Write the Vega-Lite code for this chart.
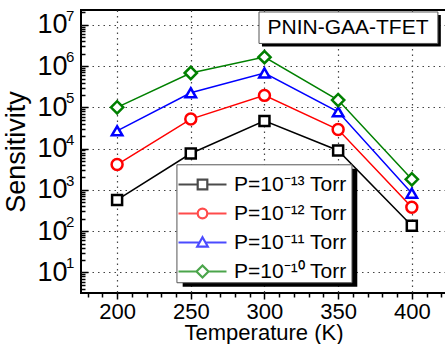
{
  "$schema": "https://vega.github.io/schema/vega-lite/v6.json",
  "width": 365,
  "height": 283,
  "autosize": {"type": "none"},
  "padding": {"left": 81, "top": 10, "right": 0, "bottom": 51},
  "background": "white",
  "config": {
    "font": "Liberation Sans",
    "view": {"stroke": "black", "strokeWidth": 2},
    "axis": {"domain": false, "labelColor": "black", "titleColor": "black", "tickColor": "black", "gridColor": "#444", "gridDash": [1.5, 4], "gridWidth": 1.2, "labelFont": "Liberation Sans", "titleFont": "Liberation Sans", "titleFontWeight": "normal", "tickWidth": 1.5, "labelOverlap": false, "labelFlush": false},
    "axisX": {"titleFontSize": 22, "labelFontSize": 22, "titlePadding": 0, "labelPadding": 2}
  },
  "datasets": {
    "curves": [
      {"T": 200, "S": 570, "P": "P=10⁻¹³ Torr"},
      {"T": 250, "S": 7600, "P": "P=10⁻¹³ Torr"},
      {"T": 300, "S": 47000, "P": "P=10⁻¹³ Torr"},
      {"T": 350, "S": 9000, "P": "P=10⁻¹³ Torr"},
      {"T": 400, "S": 135, "P": "P=10⁻¹³ Torr"},
      {"T": 200, "S": 4100, "P": "P=10⁻¹² Torr"},
      {"T": 250, "S": 52000, "P": "P=10⁻¹² Torr"},
      {"T": 300, "S": 195000, "P": "P=10⁻¹² Torr"},
      {"T": 350, "S": 29000, "P": "P=10⁻¹² Torr"},
      {"T": 400, "S": 380, "P": "P=10⁻¹² Torr"},
      {"T": 200, "S": 27000, "P": "P=10⁻¹¹ Torr"},
      {"T": 250, "S": 225000, "P": "P=10⁻¹¹ Torr"},
      {"T": 300, "S": 680000, "P": "P=10⁻¹¹ Torr"},
      {"T": 350, "S": 78000, "P": "P=10⁻¹¹ Torr"},
      {"T": 400, "S": 830, "P": "P=10⁻¹¹ Torr"},
      {"T": 200, "S": 100000, "P": "P=10⁻¹⁰ Torr"},
      {"T": 250, "S": 680000, "P": "P=10⁻¹⁰ Torr"},
      {"T": 300, "S": 1650000, "P": "P=10⁻¹⁰ Torr"},
      {"T": 350, "S": 150000, "P": "P=10⁻¹⁰ Torr"},
      {"T": 400, "S": 1800, "P": "P=10⁻¹⁰ Torr"}
    ],
    "exps": [
      {"v": 10, "e": "1"}, {"v": 100, "e": "2"}, {"v": 1000, "e": "3"}, {"v": 10000, "e": "4"},
      {"v": 100000, "e": "5"}, {"v": 1000000, "e": "6"}, {"v": 10000000, "e": "7"}
    ],
    "box": [{"name": "PNIN-GAA-TFET"}]
  },
  "layer": [
    {
      "data": {"name": "curves"},
      "encoding": {
        "x": {"field": "T", "type": "quantitative", "scale": {"domain": [175.5, 423.2], "nice": false, "zero": false},
          "axis": {"title": "Temperature (K)", "values": [180,190,200,210,220,230,240,250,260,270,280,290,300,310,320,330,340,350,360,370,380,390,400,410,420],
            "labelExpr": "abs(datum.value/50 - round(datum.value/50)) < 0.01 ? datum.label : ''",
            "tickSize": {"condition": {"test": "abs(datum.value/50 - round(datum.value/50)) < 0.01", "value": 6}, "value": 4},
            "gridOpacity": {"condition": {"test": "abs(datum.value/50 - round(datum.value/50)) < 0.01", "value": 1}, "value": 0}}},
        "y": {"field": "S", "type": "quantitative", "scale": {"type": "log", "domain": [3.16, 22900000], "nice": false},
          "axis": {"title": "Sensitivity", "titleFontSize": 27, "labelFontSize": 27, "labelPadding": 21, "titlePadding": 6,
            "values": [4,5,6,7,8,9,10,20,30,40,50,60,70,80,90,100,200,300,400,500,600,700,800,900,1000,2000,3000,4000,5000,6000,7000,8000,9000,10000,20000,30000,40000,50000,60000,70000,80000,90000,100000,200000,300000,400000,500000,600000,700000,800000,900000,1000000,2000000,3000000,4000000,5000000,6000000,7000000,8000000,9000000,10000000,20000000],
            "labelExpr": "abs(log(datum.value)/LN10 - round(log(datum.value)/LN10)) < 0.01 ? '10' : ''",
            "tickSize": {"condition": {"test": "abs(log(datum.value)/LN10 - round(log(datum.value)/LN10)) < 0.01", "value": -7}, "value": -4},
            "gridOpacity": {"condition": {"test": "abs(log(datum.value)/LN10 - round(log(datum.value)/LN10)) < 0.01", "value": 1}, "value": 0}}}
      },
      "layer": [
        {
          "mark": {"type": "line", "strokeWidth": 1.5},
          "encoding": {
            "color": {"field": "P", "type": "nominal",
              "scale": {"domain": ["P=10⁻¹³ Torr", "P=10⁻¹² Torr", "P=10⁻¹¹ Torr", "P=10⁻¹⁰ Torr"], "range": ["black", "#ff0000", "#0000ff", "#008000"]},
              "legend": {"title": null, "orient": "none", "legendX": 96, "legendY": 160, "labelFontSize": 21, "labelFont": "Liberation Sans", "labelColor": "black", "labelLimit": 300,
                "symbolSize": 2304, "symbolStrokeWidth": 2.2, "labelOffset": 6, "rowPadding": 0, "clipHeight": 29, "padding": 0, "strokeColor": null, "fillColor": null}}
          }
        },
        {
          "transform": [{"filter": "false"}],
          "mark": {"type": "point", "filled": false, "size": 2304},
          "encoding": {
            "color": {"field": "P", "type": "nominal"},
            "shape": {"field": "P", "type": "nominal",
              "scale": {"domain": ["P=10⁻¹³ Torr", "P=10⁻¹² Torr", "P=10⁻¹¹ Torr", "P=10⁻¹⁰ Torr"],
                "range": ["M-1,0H-0.22M0.22,0H1M-0.2,-0.2H0.2V0.2H-0.2Z", "M-1,0H-0.22M0.22,0H1M-0.2,0A0.2,0.2 0 1,0 0.2,0A0.2,0.2 0 1,0 -0.2,0Z", "M-1,0H-0.14M0.14,0H1M0,-0.22L0.22,0.17H-0.22Z", "M-1,0H-0.26M0.26,0H1M0,-0.25L0.25,0L0,0.25L-0.25,0Z"]}}
          }
        },
        {
          "transform": [{"filter": "datum.P == 'P=10⁻¹³ Torr'"}],
          "mark": {"type": "point", "shape": "square", "filled": true, "fill": "white", "stroke": "black", "size": 100, "strokeWidth": 2.5, "opacity": 1}
        },
        {
          "transform": [{"filter": "datum.P == 'P=10⁻¹² Torr'"}],
          "mark": {"type": "point", "shape": "circle", "filled": true, "fill": "white", "stroke": "#ff0000", "size": 120, "strokeWidth": 2.5, "opacity": 1}
        },
        {
          "transform": [{"filter": "datum.P == 'P=10⁻¹¹ Torr'"}],
          "mark": {"type": "point", "shape": "triangle-up", "filled": true, "fill": "white", "stroke": "#0000ff", "size": 110, "strokeWidth": 2.5, "opacity": 1}
        },
        {
          "transform": [{"filter": "datum.P == 'P=10⁻¹⁰ Torr'"}],
          "mark": {"type": "point", "shape": "diamond", "filled": true, "fill": "white", "stroke": "#008000", "size": 150, "strokeWidth": 2.5, "opacity": 1}
        }
      ]
    },
    {
      "data": {"name": "box"},
      "encoding": {
        "x": {"datum": 300, "type": "quantitative",
          "axis": {"title": "Temperature (K)", "values": [180,190,200,210,220,230,240,250,260,270,280,290,300,310,320,330,340,350,360,370,380,390,400,410,420],
            "labelExpr": "abs(datum.value/50 - round(datum.value/50)) < 0.01 ? datum.label : ''",
            "tickSize": {"condition": {"test": "abs(datum.value/50 - round(datum.value/50)) < 0.01", "value": 6}, "value": 4},
            "gridOpacity": {"condition": {"test": "abs(datum.value/50 - round(datum.value/50)) < 0.01", "value": 1}, "value": 0}}}
      },
      "layer": [
        {
          "mark": {"type": "rect", "fill": "black"},
          "encoding": {"x": {"datum": 244.5}, "x2": {"datum": 363}, "y": {"datum": 3240}, "y2": {"datum": 4.5}}
        },
        {
          "mark": {"type": "rect", "fill": "white", "stroke": "#555", "strokeWidth": 1},
          "encoding": {"x": {"datum": 240.6}, "x2": {"datum": 359.4}, "y": {"datum": 4050}, "y2": {"datum": 5.6}}
        },
        {
          "mark": {"type": "rect", "fill": "black"},
          "encoding": {"x": {"datum": 298.3}, "x2": {"datum": 419.7}, "y": {"datum": 17400000}, "y2": {"datum": 3000000}}
        },
        {
          "mark": {"type": "rect", "fill": "white", "stroke": "#555", "strokeWidth": 1},
          "encoding": {"x": {"datum": 296.3}, "x2": {"datum": 417.7}, "y": {"datum": 20500000}, "y2": {"datum": 3540000}}
        },
        {
          "mark": {"type": "text", "fontSize": 21, "font": "Liberation Sans", "color": "black", "align": "center", "baseline": "middle"},
          "encoding": {"x": {"datum": 356.7}, "y": {"datum": 8400000}, "text": {"field": "name"}}
        }
      ]
    },
    {
      "data": {"name": "exps"},
      "mark": {"type": "text", "fontSize": 15, "font": "Liberation Sans", "color": "black", "align": "left", "baseline": "middle", "dx": -15, "dy": -9},
      "encoding": {
        "x": {"datum": 175.5, "type": "quantitative",
          "axis": {"title": "Temperature (K)", "values": [180,190,200,210,220,230,240,250,260,270,280,290,300,310,320,330,340,350,360,370,380,390,400,410,420],
            "labelExpr": "abs(datum.value/50 - round(datum.value/50)) < 0.01 ? datum.label : ''",
            "tickSize": {"condition": {"test": "abs(datum.value/50 - round(datum.value/50)) < 0.01", "value": 6}, "value": 4},
            "gridOpacity": {"condition": {"test": "abs(datum.value/50 - round(datum.value/50)) < 0.01", "value": 1}, "value": 0}}},
        "y": {"field": "v", "type": "quantitative"},
        "text": {"field": "e"}
      }
    }
  ]
}
